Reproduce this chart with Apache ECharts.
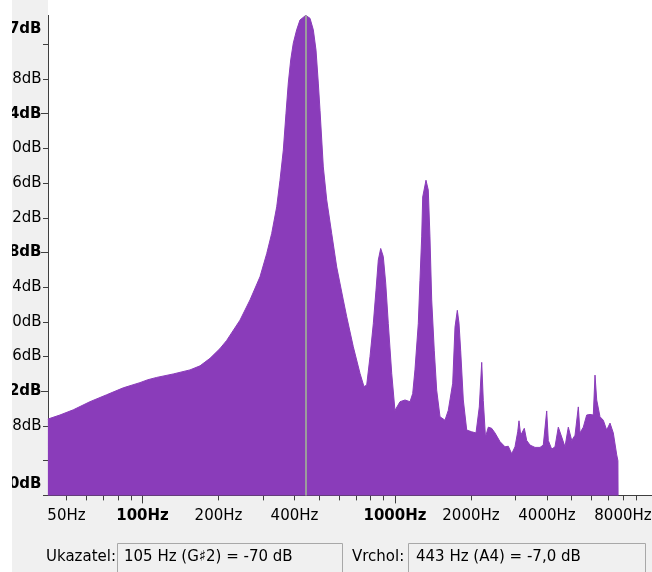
<!DOCTYPE html>
<html>
<head>
<meta charset="utf-8">
<script src="https://cdn.jsdelivr.net/npm/echarts@6/dist/echarts.min.js"></script>
<style>
  html, body { margin: 0; padding: 0; background: #ffffff; }
  #chart { width: 652px; height: 572px; }
</style>
</head>
<body>
<div id="chart"></div>
<script>
// Spectrum envelope: frequency (Hz) and level (dB)
const freqHz = [
  42.2, 47.1, 53.2, 61.9, 72.1, 83.9, 97.7, 105, 113.8, 132.4,
  154.2, 169, 185.1, 202.8, 215.5, 243.3, 266.6, 292, 310.4, 324.9,
  340.1, 350.5, 361.2, 370.2, 378, 386.4, 395.6, 408, 420.5, 443,
  460.8, 474.9, 486.7, 497, 504.8, 520.2, 536.6, 561.6, 587.8, 624.2,
  643.9, 683.9, 727, 754, 772.8, 796.4, 820.7, 841.2, 859, 878,
  899, 919, 941, 970.7, 1000, 1047, 1096, 1147, 1175.5, 1200,
  1237, 1256, 1276, 1288, 1327, 1355, 1376, 1398, 1431, 1463,
  1508, 1578, 1626, 1693, 1729, 1766, 1793, 1821, 1865, 1924,
  2013, 2094, 2158, 2206, 2238, 2283, 2343, 2416, 2490, 2606,
  2728, 2811, 2900, 2988, 3063, 3099, 3148, 3253, 3325, 3427,
  3586, 3754, 3868, 3990, 4049, 4176, 4304, 4436, 4575, 4715,
  4859, 5013, 5166, 5324, 5407, 5572, 5747, 5923, 6104, 6199,
  6296, 6488, 6687, 6897, 7108, 7325, 7557, 7640, 7650
];
const levelDb = [
  -76.8, -76.1, -75.2, -73.8, -72.6, -71.4, -70.5, -70, -69.6, -69.0,
  -68.3, -67.6, -66.3, -64.6, -63.2, -59.7, -56.2, -52.2, -48.2, -44.7,
  -40.1, -35.5, -30.3, -23.9, -18.7, -14.7, -11.8, -9.5, -7.8, -7.0,
  -7.5, -9.5, -13.0, -18.7, -23.4, -33.2, -38.9, -44.7, -50.5, -56.2,
  -59.1, -64.3, -68.9, -71.2, -70.9, -66.0, -60.3, -54.5, -49.3, -47.3,
  -48.7, -53.3, -60.3, -68.9, -75.3, -73.8, -73.5, -73.8, -72.4, -68.3,
  -60.3, -52.8, -45.3, -38.4, -35.5, -37.2, -45.3, -56.2, -64.9, -71.8,
  -76.4, -77.0, -75.3, -70.6, -60.9, -58.0, -60.2, -65.0, -73.5, -78.7,
  -79.0, -79.2, -74.7, -67.0, -73.6, -79.9, -78.2, -78.4, -79.2, -80.7,
  -81.6, -81.5, -82.8, -81.6, -79.0, -77.1, -79.6, -78.4, -80.5, -81.3,
  -81.7, -81.7, -81.3, -75.4, -80.5, -82.0, -81.6, -78.2, -79.9, -81.6,
  -78.2, -80.5, -79.6, -74.7, -79.2, -78.2, -76.1, -76.0, -76.1, -69.2,
  -73.5, -76.4, -77.0, -78.7, -77.5, -79.2, -83.0, -84.0, -90
];

// Frequency axis ticks and labels
const freqTicks = [50, 60, 70, 80, 90, 100, 200, 300, 400, 500, 600, 700, 800, 900,
                   1000, 2000, 3000, 4000, 5000, 6000, 7000, 8000, 9000];
const freqMajorTicks = [100, 1000];
const freqLabels = [50, 100, 200, 400, 1000, 2000, 4000, 8000];
const freqRange = [42.24, 10425];

// Level axis ticks and labels
const dbRange = [-90, -7];
const dbTicks = [-90, -84, -78, -72, -66, -60, -54, -48, -42, -36, -30, -24, -18, -12];
const dbMajorTicks = [-72, -48, -24];
const dbLabels = [-90, -78, -72, -66, -60, -54, -48, -42, -36, -30, -24, -18, -7];
const dbBoldLabels = [-90, -72, -48, -24, -7];

// Readouts
const cursorFreq = 105, cursorNote = 'G♯2', cursorDb = -70;
const peakFreq = 443, peakNote = 'A4', peakDb = -7.0;

const L2 = Math.log2;
const PURPLE = '#8a3cba';
const AXIS = '#3f3f3f';
const FONT = '"DejaVu Sans", Verdana, sans-serif';
const FS = 15;

const chart = echarts.init(document.getElementById('chart'), null, { renderer: 'canvas' });

const spectrum = freqHz.map((f, i) => [L2(f), levelDb[i]]);

const isBoldHz = v => freqMajorTicks.some(t => Math.abs(L2(t) - v) < 1e-6);

const option = {
  backgroundColor: '#ffffff',
  animation: false,
  grid: { left: 48, right: 0, top: 15.4, bottom: 76.6, containLabel: false, outerBoundsMode: 'none' },
  xAxis: [
    {
      type: 'value',
      min: L2(freqRange[0]),
      max: L2(freqRange[1]),
      axisLine: { show: true, onZero: false, lineStyle: { color: AXIS, width: 1 } },
      axisTick: { show: true, length: 5, customValues: freqTicks.map(L2), lineStyle: { color: AXIS } },
      splitLine: { show: false },
      axisLabel: {
        show: true,
        customValues: freqLabels.map(L2),
        margin: 13,
        color: '#000',
        fontFamily: FONT,
        fontSize: FS,
        formatter: v => {
          const t = Math.round(Math.pow(2, v)) + 'Hz';
          return isBoldHz(v) ? '{b|' + t + '}' : t;
        },
        rich: { b: { fontWeight: 'bold', fontFamily: FONT, fontSize: FS, color: '#000' } }
      }
    },
    {
      type: 'value',
      position: 'bottom',
      min: L2(freqRange[0]),
      max: L2(freqRange[1]),
      axisLine: { show: false },
      axisTick: { show: true, length: 8, customValues: freqMajorTicks.map(L2), lineStyle: { color: AXIS } },
      axisLabel: { show: false },
      splitLine: { show: false }
    }
  ],
  yAxis: [
    {
      type: 'value',
      min: dbRange[0],
      max: dbRange[1],
      axisLine: { show: true, onZero: false, lineStyle: { color: AXIS, width: 1 } },
      axisTick: { show: true, length: 5, customValues: dbTicks, lineStyle: { color: AXIS } },
      splitLine: { show: false },
      axisLabel: {
        show: true,
        customValues: dbLabels,
        margin: 6.5,
        color: '#000',
        fontFamily: FONT,
        fontSize: FS,
        formatter: v => {
          const t = v + 'dB';
          if (v === dbRange[1]) return '{top|' + t + '}';
          if (v === dbRange[0]) return '{bot|' + t + '}';
          return dbBoldLabels.includes(v) ? '{b|' + t + '}' : t;
        },
        rich: {
          b: { fontWeight: 'bold', fontFamily: FONT, fontSize: FS, color: '#000' },
          top: { fontWeight: 'bold', fontFamily: FONT, fontSize: FS, color: '#000', padding: [28, 0, 0, 0] },
          bot: { fontWeight: 'bold', fontFamily: FONT, fontSize: FS, color: '#000', padding: [0, 0, 22, 0] }
        }
      }
    },
    {
      type: 'value',
      position: 'left',
      min: dbRange[0],
      max: dbRange[1],
      axisLine: { show: false },
      axisTick: { show: true, length: 7, customValues: dbMajorTicks, lineStyle: { color: AXIS } },
      axisLabel: { show: false },
      splitLine: { show: false }
    }
  ],
  series: [
    {
      type: 'line',
      xAxisIndex: 0,
      yAxisIndex: 0,
      data: spectrum,
      showSymbol: false,
      smooth: false,
      lineStyle: { color: PURPLE, width: 1 },
      areaStyle: { color: PURPLE, opacity: 1, origin: 'start' },
      silent: true,
      z: 2,
      markLine: {
        silent: true,
        symbol: ['none', 'none'],
        label: { show: false },
        lineStyle: { color: '#9c9c9c', width: 2, type: 'solid' },
        emphasis: { disabled: true },
        data: [{ xAxis: L2(peakFreq) }]
      }
    }
  ],
  graphic: [
    // panel background and plot surface
    { type: 'rect', z: -20, silent: true, shape: { x: 12, y: 0, width: 640, height: 572 }, style: { fill: '#f0f0f0' } },
    { type: 'rect', z: -19, silent: true, shape: { x: 48, y: 0, width: 604, height: 495.5 }, style: { fill: '#ffffff' } },
    // left page margin
    { type: 'rect', z: 100, silent: true, shape: { x: 0, y: 0, width: 12, height: 572 }, style: { fill: '#ffffff' } },
    // status readouts
    { type: 'rect', z: 10, silent: true, shape: { x: 117.5, y: 543.5, width: 225, height: 40 },
      style: { fill: '#f0f0f0', stroke: '#a8a8a8', lineWidth: 1 } },
    { type: 'rect', z: 10, silent: true, shape: { x: 408.5, y: 543.5, width: 237, height: 40 },
      style: { fill: '#f0f0f0', stroke: '#a8a8a8', lineWidth: 1 } },
    { type: 'text', z: 11, silent: true, x: 116, y: 557,
      style: { text: 'Ukazatel:', font: FS + 'px ' + FONT, fill: '#000', align: 'right', verticalAlign: 'middle' } },
    { type: 'text', z: 11, silent: true, x: 124, y: 557,
      style: { text: cursorFreq + ' Hz (' + cursorNote + ') = ' + cursorDb + ' dB', font: FS + 'px ' + FONT, fill: '#000', align: 'left', verticalAlign: 'middle' } },
    { type: 'text', z: 11, silent: true, x: 352, y: 557,
      style: { text: 'Vrchol:', font: FS + 'px ' + FONT, fill: '#000', align: 'left', verticalAlign: 'middle' } },
    { type: 'text', z: 11, silent: true, x: 416, y: 557,
      style: { text: peakFreq + ' Hz (' + peakNote + ') = ' + peakDb.toFixed(1).replace('.', ',') + ' dB', font: FS + 'px ' + FONT, fill: '#000', align: 'left', verticalAlign: 'middle' } }
  ]
};

chart.setOption(option);
</script>
</body>
</html>
